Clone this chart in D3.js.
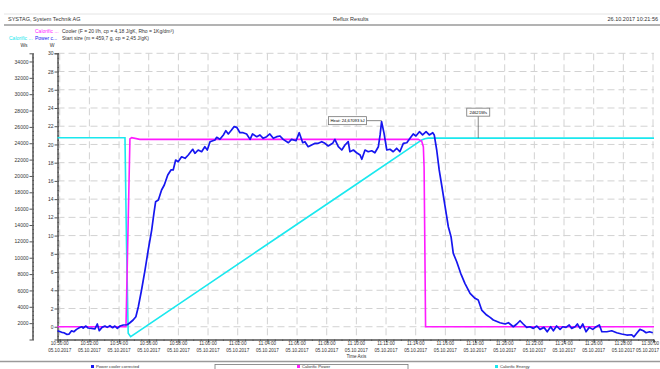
<!DOCTYPE html>
<html>
<head>
<meta charset="utf-8">
<script src="https://cdn.jsdelivr.net/npm/d3@7"></script>
<style>
  body { margin: 0; background: #fff; }
  svg { display: block; font-family: "Liberation Sans", Arial, sans-serif; }
</style>
</head>
<body>
<div id="chart"></div>
<script>
// time stamps are all on 05.10.2017
const powerTimes = ["10:49:51","10:50:08","10:50:17","10:50:28","10:50:38","10:50:48","10:50:57","10:51:08","10:51:19","10:51:29",
  "10:51:35","10:51:46","10:51:55","10:52:09","10:52:22","10:52:32","10:52:40","10:52:51","10:53:03","10:53:12",
  "10:53:23","10:53:34","10:53:43","10:53:53","10:54:04","10:54:17","10:54:33","10:54:44","10:54:57","10:55:08",
  "10:55:18","10:55:31","10:55:45","10:55:58","10:56:12","10:56:21","10:56:28","10:56:39","10:56:52","10:57:03",
  "10:57:17","10:57:30","10:57:39","10:57:49","10:57:59","10:58:13","10:58:27","10:58:40","10:58:58","10:59:07",
  "10:59:20","10:59:34","10:59:47","10:59:57","11:00:08","11:00:28","11:00:35","11:00:48","11:01:02","11:01:12",
  "11:01:22","11:01:35","11:01:45","11:01:56","11:02:09","11:02:22","11:02:36","11:02:50","11:03:00","11:03:17",
  "11:03:30","11:03:43","11:03:57","11:04:10","11:04:24","11:04:38","11:04:51","11:05:04","11:05:25","11:05:38",
  "11:05:56","11:06:09","11:06:23","11:06:32","11:06:45","11:06:59","11:07:13","11:07:26","11:07:40","11:07:53",
  "11:08:06","11:08:24","11:08:33","11:08:47","11:09:01","11:09:14","11:09:27","11:09:34","11:09:48","11:10:01",
  "11:10:15","11:10:22","11:10:35","11:10:48","11:11:02","11:11:15","11:11:29","11:11:36","11:11:42","11:11:52",
  "11:12:03","11:12:16","11:12:29","11:12:43","11:12:56","11:13:10","11:13:24","11:13:37","11:13:50","11:14:01",
  "11:14:15","11:14:28","11:14:42","11:14:55","11:15:09","11:15:15","11:15:25","11:15:35","11:15:45","11:15:58",
  "11:16:12","11:16:23","11:16:32","11:16:46","11:17:02","11:17:19","11:17:40","11:18:00","11:18:13","11:18:27",
  "11:18:47","11:19:01","11:19:14","11:19:41","11:20:02","11:20:15","11:20:35","11:20:49","11:21:02","11:21:15",
  "11:21:29","11:21:42","11:21:56","11:22:10","11:22:23","11:22:39","11:22:52","11:23:06","11:23:17","11:23:30",
  "11:23:44","11:23:55","11:24:08","11:24:21","11:24:31","11:24:45","11:24:54","11:25:05","11:25:16","11:25:29",
  "11:25:42","11:25:56","11:26:10","11:26:23","11:26:33","11:26:53","11:27:13","11:27:33","11:27:53","11:28:14",
  "11:28:34","11:28:43","11:28:54","11:29:07","11:29:21","11:29:32","11:29:46","11:29:59"];
const powerW = [-0.44,-0.61,-0.66,-0.83,-0.80,-0.44,-0.55,-0.29,-0.11,0,
  -0.14,0.08,-0.14,-0.18,-0.25,0.30,-0.44,-0.07,0.08,-0.07,
  0.11,-0.11,0.08,-0.18,0.08,0.19,0.22,0.44,0.74,1.10,
  2.19,4.03,6.22,8.42,10.61,12.44,13.72,13.90,15.0,15.55,
  16.65,17.2,17.2,18.29,18.1,18.65,18.48,18.84,19.47,19.03,
  19.39,19.2,19.75,19.39,20.3,20.49,20.78,20.56,21.04,21.51,
  21.15,21.58,21.95,21.88,21.29,21.29,21.15,20.56,21.15,20.85,
  21.04,20.67,20.85,21.15,20.67,20.85,20.93,20.56,20.19,20.56,
  20.41,21.29,20.19,20.3,19.75,19.94,20.12,20.12,20.3,20.12,
  19.83,20.12,20.56,19.75,19.39,19.94,20.3,19.2,19.39,19.09,
  18.84,18.37,19.39,19.2,19.31,19.09,19.75,21.04,22.5,21.22,
  19.39,19.47,19.2,19.58,19.2,20.12,20.19,20.67,21.15,20.93,
  21.4,21.04,21.4,21.04,21.29,21.04,19.39,17.2,15.55,13.35,
  10.97,9.88,8.05,7.13,5.86,4.76,3.67,3.12,2.93,1.83,
  1.28,1.03,0.74,0.44,0.30,0.44,0,0.30,0.66,0.30,
  -0.07,0,-0.18,0.08,-0.29,-0.07,-0.55,0,-0.44,0.08,
  -0.29,0,-0.07,0.19,-0.18,0,0.30,-0.18,0.30,-0.55,
  -0.07,-0.29,0,0.19,-0.55,-0.55,-0.44,-0.66,-0.80,-0.91,
  -0.88,-1.1,-0.72,-0.29,-0.44,-0.66,-0.55,-0.66];

const calPowerTimes = ["10:49:51","10:54:28","10:54:44","10:54:51","10:55:24","11:14:10","11:14:24","11:14:31","11:14:34","11:14:40","11:30:04"];
const calPowerW = [0, 0, 20.6, 20.74, 20.56, 20.56, 20.38, 19.75, 17.5, 0, 0];

const calEnergyTimes = ["10:49:51","10:54:24","10:54:30","10:54:37","10:54:47","11:00:00","11:05:00","11:10:00","11:14:10","11:14:24","11:14:37","11:14:50","11:30:04"];
const calEnergyWs = [24680, 24680, 12000, 760, 342, 6740, 12870, 18990, 24100, 24400, 24545, 24621, 24621];

const wsTicks = [2000,4000,6000,8000,10000,12000,14000,16000,18000,20000,22000,24000,26000,28000,30000,32000,34000];
const wTicks = [0,2,4,6,8,10,12,14,16,18,20,22,24,26,28,30];

const legendNames = ["Power cooler corrected", "Calorific Power", "Calorific Energy"];
const colors = ["#1616f0", "#ff1aff", "#1ae8ee"];

const w = 660;
const h = 369;
const day = "2017-10-05 ";
const parse = d3.timeParse("%Y-%m-%d %H:%M:%S");
const t = (s) => parse(day + s);

const xScale = d3.scaleTime()
                 .domain([t("10:49:51"), t("11:30:04")])
                 .range([57.5, 654]);
const yW = d3.scaleLinear().domain([-1.4, 30]).range([339.5, 53.3]);
const yWs = d3.scaleLinear().domain([0, 35000]).range([339.5, 53.3]);

const svg = d3.select("#chart")
              .append("svg")
              .attr("width", w)
              .attr("height", h);

// header
svg.append("line").attr("x1", 4).attr("x2", w).attr("y1", 14).attr("y2", 14)
   .attr("stroke", "#e4e4e4");
svg.append("line").attr("x1", 4).attr("x2", w).attr("y1", 25).attr("y2", 25)
   .attr("stroke", "#9a9a9a").attr("stroke-width", 1.5);
svg.append("text").attr("x", 8).attr("y", 21).attr("font-size", 5.5).attr("fill", "#333").text("SYSTAG, System Technik AG");
svg.append("text").attr("x", 333).attr("y", 21).attr("font-size", 5.5).attr("fill", "#333").text("Reflux Results");
svg.append("text").attr("x", 658).attr("y", 21).attr("font-size", 5.5).attr("fill", "#333")
   .attr("text-anchor", "end").text("26.10.2017 10:21:56");

svg.append("text").attr("x", 35).attr("y", 33).attr("font-size", 5).attr("fill", colors[1]).text("Calorific ...");
svg.append("text").attr("x", 9).attr("y", 40).attr("font-size", 5).attr("fill", colors[2]).text("Calorific ...");
svg.append("text").attr("x", 35).attr("y", 40).attr("font-size", 5).attr("fill", colors[0]).text("Power c...");
svg.append("text").attr("x", 62).attr("y", 33).attr("font-size", 5).attr("fill", "#333").text("Cooler (F = 20 l/h, cp = 4,18 J/gK, Rho = 1Kg/dm³)");
svg.append("text").attr("x", 62).attr("y", 40).attr("font-size", 5).attr("fill", "#333").text("Start size (m = 459,7 g, cp = 2,45 J/gK)");
svg.append("text").attr("x", 24).attr("y", 47).attr("font-size", 5).attr("text-anchor", "middle").attr("fill", "#333").text("Ws");
svg.append("text").attr("x", 52).attr("y", 47).attr("font-size", 5).attr("text-anchor", "middle").attr("fill", "#333").text("W");

// grid
const xTicks = d3.timeMinute.every(2).range(t("10:50:00"), t("11:30:01"));
svg.append("g").selectAll("line").data(wTicks).enter().append("line")
   .attr("x1", 57.5).attr("x2", 654)
   .attr("y1", (d) => yW(d)).attr("y2", (d) => yW(d))
   .attr("stroke", "#d2d2d2").attr("stroke-dasharray", "7,4");
svg.append("g").selectAll("line").data(xTicks).enter().append("line")
   .attr("x1", (d) => xScale(d)).attr("x2", (d) => xScale(d))
   .attr("y1", 53.3).attr("y2", 339.5)
   .attr("stroke", "#d2d2d2").attr("stroke-dasharray", "7,4");

// axes
const wsAxis = d3.axisLeft(yWs).tickValues(wsTicks).tickSize(3).tickPadding(1).tickFormat(d3.format("d"));
const wsMinor = d3.axisRight(yWs).tickValues(d3.range(500, 35000, 500)).tickSize(1.5).tickFormat("");
const wAxis = d3.axisLeft(yW).tickValues(wTicks).tickSize(3).tickPadding(1).tickFormat(d3.format("d"));
const wMinor = d3.axisRight(yW).tickValues(d3.range(-1, 30.01, 0.5)).tickSize(1.5).tickFormat("");
const xAxis = d3.axisBottom(xScale).tickValues(xTicks).tickSize(3).tickFormat("");
const xMinor = d3.axisBottom(xScale).ticks(d3.timeSecond.every(30)).tickSize(1.5).tickFormat("");

svg.append("g").attr("id", "ws-axis").attr("transform", "translate(32.5,0)").call(wsAxis);
svg.append("g").attr("transform", "translate(32.5,0)").call(wsMinor);
svg.append("g").attr("id", "w-axis").attr("transform", "translate(57.5,0)").call(wAxis);
svg.append("g").attr("transform", "translate(57.5,0)").call(wMinor);
svg.append("g").attr("id", "x-axis").attr("transform", "translate(0,339.5)").call(xAxis);
svg.append("g").attr("transform", "translate(0,339.5)").call(xMinor);

svg.selectAll(".domain").attr("stroke", "#555");
svg.selectAll(".tick line").attr("stroke", "#555");
svg.selectAll("#ws-axis text, #w-axis text").attr("font-size", 5).attr("fill", "#333");

const fmtT = d3.timeFormat("%H:%M:%S");
const fmtD = d3.timeFormat("%d.%m.%Y");
const last = xTicks.length - 1;
// the last label is pulled in so it stays inside the window
const labX = (d, i) => (i === last ? w - 1 : xScale(d));
const xl = svg.append("g").selectAll("text").data(xTicks).enter().append("text")
   .attr("x", labX).attr("y", 345).attr("font-size", 4.6)
   .attr("text-anchor", (d, i) => (i === last ? "end" : "middle")).attr("fill", "#333");
xl.append("tspan").attr("x", labX).text((d) => fmtT(d));
xl.append("tspan").attr("x", labX).attr("dy", 6.5).text((d) => fmtD(d));
svg.append("text").attr("x", xScale(t("11:10:00"))).attr("y", 358).attr("font-size", 4.6)
   .attr("text-anchor", "middle").attr("fill", "#333").text("Time Axis");

// series
const mk = (times, vals) => times.map((s, i) => [t(s), vals[i]]);
const lineW = d3.line().x((d) => xScale(d[0])).y((d) => yW(d[1]));
const lineWs = d3.line().x((d) => xScale(d[0])).y((d) => yWs(d[1]));

svg.append("path").datum(mk(calEnergyTimes, calEnergyWs)).attr("d", lineWs)
   .attr("fill", "none").attr("stroke", colors[2]).attr("stroke-width", 1.6);
svg.append("path").datum(mk(calPowerTimes, calPowerW)).attr("d", lineW)
   .attr("fill", "none").attr("stroke", colors[1]).attr("stroke-width", 1.6);
svg.append("path").datum(mk(powerTimes, powerW)).attr("d", lineW)
   .attr("fill", "none").attr("stroke", colors[0]).attr("stroke-width", 1.7)
   .attr("stroke-linejoin", "round");

// annotations
const heatPt = [xScale(t("11:11:42")), yW(22.5)];
svg.append("line").attr("x1", heatPt[0] - 15).attr("x2", heatPt[0])
   .attr("y1", heatPt[1] - 1).attr("y2", heatPt[1] - 1).attr("stroke", "#555").attr("stroke-width", 0.7);
svg.append("rect").attr("x", heatPt[0] - 53).attr("y", heatPt[1] - 5).attr("width", 38).attr("height", 8)
   .attr("fill", "#fff").attr("stroke", "#777").attr("stroke-width", 0.8);
svg.append("text").attr("x", heatPt[0] - 34).attr("y", heatPt[1] + 0.6).attr("font-size", 4.2)
   .attr("text-anchor", "middle").text("Heat: 24,67093 kJ");

const enPt = [xScale(t("11:18:13")), yWs(24621)];
svg.append("line").attr("x1", enPt[0]).attr("x2", enPt[0])
   .attr("y1", enPt[1] - 22).attr("y2", enPt[1]).attr("stroke", "#555").attr("stroke-width", 0.7);
svg.append("rect").attr("x", enPt[0] - 11.5).attr("y", enPt[1] - 30).attr("width", 23).attr("height", 8)
   .attr("fill", "#fff").attr("stroke", "#777").attr("stroke-width", 0.8);
svg.append("text").attr("x", enPt[0]).attr("y", enPt[1] - 24.4).attr("font-size", 4.2)
   .attr("text-anchor", "middle").text("24621Ws");

// legend
svg.append("line").attr("x1", 0).attr("x2", w).attr("y1", 361.5).attr("y2", 361.5)
   .attr("stroke", "#9a9a9a").attr("stroke-width", 1.5);
svg.append("rect").attr("x", 215).attr("y", 364.5).attr("width", 193).attr("height", 8)
   .attr("fill", "none").attr("stroke", "#777").attr("stroke-width", 0.8);
const legX = [91, 297, 495];
const leg = svg.append("g").selectAll("g").data(legendNames).enter().append("g")
   .attr("transform", (d, i) => "translate(" + legX[i] + ",366.5)");
leg.append("rect").attr("x", 0).attr("y", -1.5).attr("width", 3).attr("height", 3)
   .attr("fill", (d, i) => colors[i]);
leg.append("text").attr("x", 5).attr("y", 1.5).attr("font-size", 4.2).attr("fill", "#333").text((d) => d);
</script>
</body>
</html>
